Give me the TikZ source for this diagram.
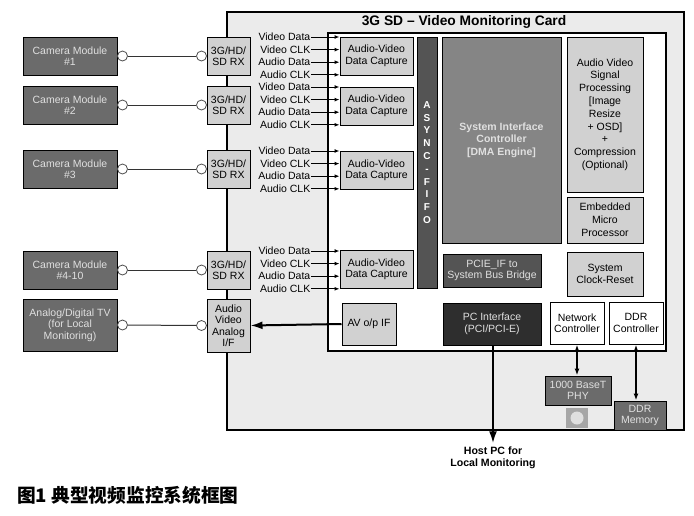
\documentclass[tikz,border=0pt]{standalone}
\usepackage{fontspec}
\setmainfont{Liberation Sans}
\newfontfamily\cjk{Noto Sans CJK SC}
\usetikzlibrary{arrows.meta}

\definecolor{cardgray}{gray}{0.92}
\definecolor{lightfill}{gray}{0.82}
\definecolor{midfill}{gray}{0.52}
\definecolor{darkfill}{gray}{0.42}
\definecolor{darkerfill}{gray}{0.33}
\definecolor{blackfill}{gray}{0.18}
\definecolor{paletext}{gray}{0.88}

\begin{document}
\begin{tikzpicture}[x=1pt, y=-1pt,
    font=\fontsize{10.5}{11.5}\selectfont,
    box/.style={draw=black, line width=1pt, align=center, inner sep=1pt},
    lightbox/.style={box, fill=lightfill},
    darkbox/.style={box, fill=darkfill, text=paletext},
    whitebox/.style={box, fill=white},
    port/.style={circle, draw=black!70, fill=white, line width=0.8pt, minimum size=10pt, inner sep=0pt},
    sig/.style={inner sep=0.5pt, font=\fontsize{10.5}{11}\selectfont},
    sigarrow/.style={-{Latex[length=5pt,width=4pt]}, line width=1pt},
    bigarrow/.style={-{Latex[length=12pt,width=8pt]}, line width=2pt},
    dblarrow/.style={{Latex[length=7pt,width=5pt]}-{Latex[length=7pt,width=5pt]}, line width=1.5pt}
]
\useasboundingbox (0,0) rectangle (694,515);

% Card
\draw[fill=cardgray, line width=1.2pt] (227,12) rectangle (684,430);
\node[font=\fontsize{13.8}{15}\selectfont\bfseries] (title) at (464,22) {3G SD -- Video Monitoring Card};
\draw[fill=white, line width=1.2pt] (328,33) rectangle (666,351);

% Cameras and receivers
\foreach \c/\yc/\txt in {1/56/{Camera Module\\\#1}, 2/105/{Camera Module\\\#2},
                         3/169/{Camera Module\\\#3}, 4/270/{Camera Module\\\#4-10}}{
    \node[darkbox, minimum width=94pt, minimum height=38pt] (cam\c) at (70,\yc) {\txt};
    \node[lightbox, minimum width=43pt, minimum height=38pt] (rx\c) at (228.5,\yc) {3G/HD/\\SD RX};
    \node[port] (pa\c) at ([xshift=5pt]cam\c.east) {};
    \node[port] (pb\c) at ([xshift=-5pt]rx\c.west) {};
    \draw[line width=1pt, black!80] (pa\c) -- (pb\c);
}
\node[darkbox, minimum width=94pt, minimum height=52pt] (tv) at (70,325) {Analog/Digital TV\\(for Local\\Monitoring)};
\node[lightbox, minimum width=43pt, minimum height=53pt] (avif) at (228.5,325.5) {Audio\\Video\\Analog\\I/F};
\node[port] (pa5) at ([xshift=5pt]tv.east) {};
\node[port] (pb5) at ([xshift=-5pt]avif.west) {};
\draw[line width=1pt, black!80] (pa5) -- (pb5);

% Capture blocks
\foreach \c/\yc in {1/56, 2/106, 3/170.5, 4/269.5}
    \node[lightbox, minimum width=73pt, minimum height=38pt] (cap\c) at (376.5,\yc) {Audio-Video\\Data Capture};

% Signals
\foreach \c/\yc in {1/56, 2/106, 3/170, 4/270}{
    \foreach \s [count=\k] in {Video Data, Video CLK, Audio Data, Audio CLK}{
        \node[sig, anchor=east] (s\c\k) at (311,{\yc-19+12.6*(\k-1)}) {\s};
        \draw[sigarrow] (s\c\k.east) -- (s\c\k.east -| cap\c.west);
    }
}

% Core blocks
\node[box, fill=darkerfill, text=white, minimum width=20pt, minimum height=251pt,
      font=\fontsize{10}{12.8}\selectfont\bfseries] (fifo) at (427,162.5) {A\\S\\Y\\N\\C\\-\\F\\I\\F\\O};
\node[box, fill=midfill, text=paletext, minimum width=119pt, minimum height=206pt,
      font=\fontsize{10.5}{12.5}\selectfont\bfseries] (sic) at (501.5,140) {System Interface\\Controller\\{[DMA Engine]}};
\node[lightbox, minimum width=76pt, minimum height=155pt, font=\fontsize{10.5}{12.8}\selectfont] (avsp) at (605,114.5)
      {Audio Video\\Signal\\Processing\\{[Image}\\Resize\\+ OSD{]}\\+\\Compression\\(Optional)};
\node[lightbox, minimum width=76pt, minimum height=46pt, font=\fontsize{10.5}{12.8}\selectfont] (emp) at (605,220) {Embedded\\Micro\\Processor};
\node[box, fill=darkerfill, text=paletext, minimum width=98pt, minimum height=33pt] (pcie) at (492,270.5) {PCIE\_IF to\\System Bus Bridge};
\node[lightbox, minimum width=76pt, minimum height=44pt] (clk) at (605,274) {System\\Clock-Reset};
\node[lightbox, minimum width=54pt, minimum height=42pt] (avo) at (369,324) {AV o/p IF};
\node[box, fill=blackfill, text=paletext, minimum width=98pt, minimum height=42pt] (pci) at (492,324) {PC Interface\\(PCI/PCI-E)};
\node[whitebox, minimum width=54pt, minimum height=42pt] (net) at (577,323) {Network\\Controller};
\node[whitebox, minimum width=54pt, minimum height=42pt] (ddrc) at (636,323) {DDR\\Controller};

% Off-chip
\node[darkbox, minimum width=66pt, minimum height=29pt] (phy) at (578,390.5) {1000 BaseT\\PHY};
\node[box, draw=none, fill=gray!70, minimum width=22pt, minimum height=20pt] (rj) at (577,418) {};
\node[circle, fill=gray!25, minimum size=13pt, inner sep=0pt] (rjc) at (rj.center) {};
\node[darkbox, minimum width=52pt, minimum height=29pt] (ddrm) at (640,415.5) {DDR\\Memory};
\node[font=\fontsize{10.6}{12.5}\selectfont\bfseries, align=center] (host) at (493,458) {Host PC for\\Local Monitoring};

% Connections
\draw[bigarrow] (avo.west) -- (avif.east);
\draw[bigarrow] (pci.south -| host.north) -- (host.north);
\draw[dblarrow] (net.south) -- (net.south |- phy.north);
\draw[dblarrow] (ddrc.south) -- (ddrc.south |- ddrm.north);

% Caption
\node[anchor=west, font=\cjk\bfseries\fontsize{18.7}{20}\selectfont, inner sep=0pt] (caption) at (17,495) {图1 典型视频监控系统框图};

\end{tikzpicture}
\end{document}
